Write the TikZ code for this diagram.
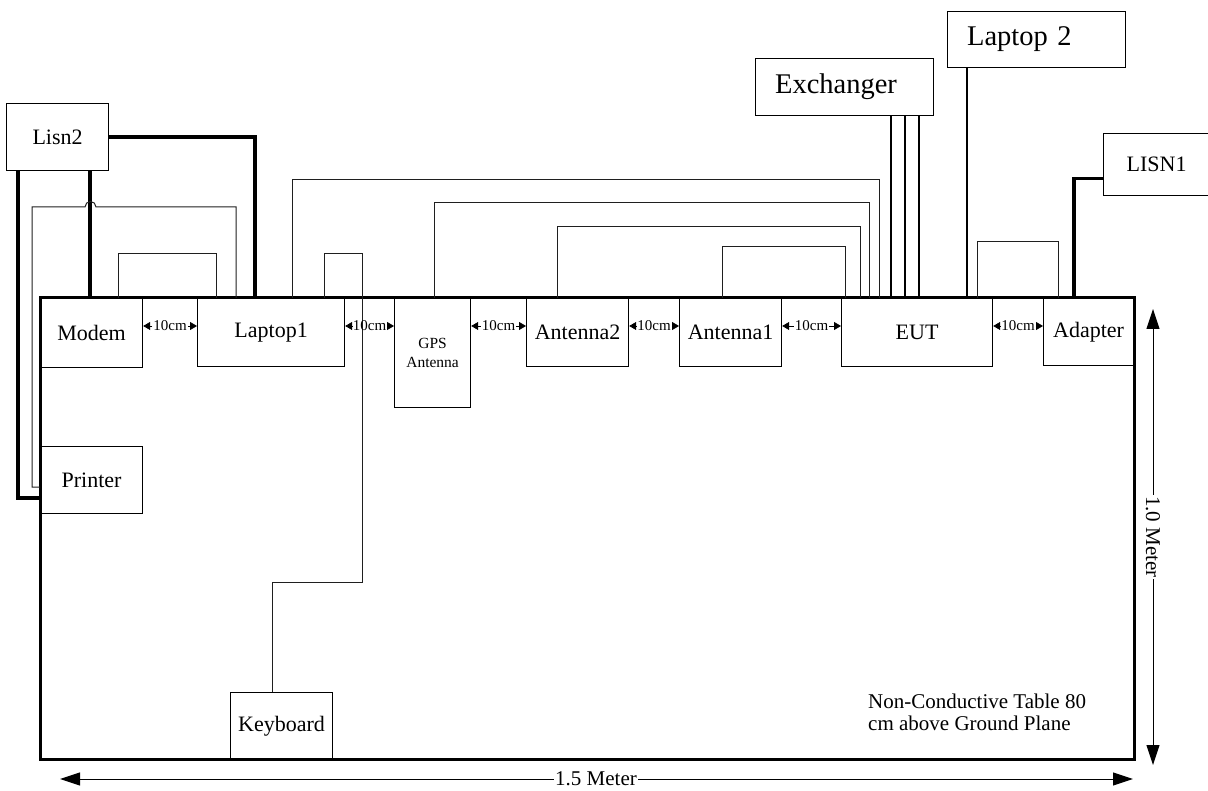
\documentclass[tikz,border=0pt]{standalone}
\usepackage{fontspec}
\setmainfont{Liberation Serif}
\usetikzlibrary{arrows.meta,calc}
\begin{document}
\begin{tikzpicture}[x=1pt,y=-1pt,
  dev/.style={draw, line width=1.2pt, inner sep=0pt, anchor=north west, font=\fontsize{22}{24}\selectfont},
  bigdev/.style={dev, font=\fontsize{28.5}{30}\selectfont, text width=139pt, align=left},
  cable/.style={line width=1pt, black!88},
  multi/.style={line width=1.5pt, black},
  power/.style={line width=3.6pt, black},
  gap/.style={font=\fontsize{15}{16}\selectfont, inner sep=0.8pt},
  gaparrow/.style={line width=0.8pt, -{Triangle[length=7pt,width=8pt]}},
  dim/.style={line width=1pt, -{Triangle[length=20pt,width=13pt]}},
  dimlabel/.style={font=\fontsize{21}{24}\selectfont, inner sep=1pt},
]
\useasboundingbox (0,0) rectangle (1208,791);

% table
\node[draw, line width=3.2pt, inner sep=0pt, anchor=north west, minimum width=1094pt, minimum height=462pt] (table) at (39,296) {};

% devices
\node[dev, minimum width=102pt, minimum height=67pt] (lisn2) at (6,103) {Lisn2};
\node[dev, minimum width=102pt, minimum height=69pt] (modem) at (40,298) {Modem};
\node[dev, minimum width=147pt, minimum height=68pt] (laptop1) at (197,298) {Laptop1};
\node[dev, minimum width=76pt, minimum height=109pt, align=center, font=\fontsize{15.5}{19}\selectfont] (gps) at (394,298) {GPS\\Antenna};
\node[dev, minimum width=102pt, minimum height=68pt] (ant2) at (526,298) {Antenna2};
\node[dev, minimum width=102pt, minimum height=68pt] (ant1) at (679,298) {Antenna1};
\node[dev, minimum width=151pt, minimum height=68pt] (eut) at (841,298) {EUT};
\node[dev, minimum width=90pt, minimum height=67pt] (adapter) at (1043,298) {Adapter};
\node[bigdev, minimum width=178pt, minimum height=57pt] (exch) at (755,58) {Exchanger};
\node[bigdev, minimum width=178pt, minimum height=56pt] (laptop2) at (947,11) {Laptop 2};
\node[dev, minimum width=106pt, minimum height=62pt] (lisn1) at (1103,133) {LISN1};
\node[dev, minimum width=102pt, minimum height=67pt] (printer) at (40,446) {Printer};
\node[dev, minimum width=102pt, minimum height=67pt] (keyboard) at (230,692) {Keyboard};

% power cables
\draw[power] ([xshift=12pt]lisn2.south west) |- ([yshift=-52pt]printer.north west);
\draw[power] ([xshift=84pt]lisn2.south west) -- ([xshift=50pt]modem.north west);
\draw[power] (lisn2.east) -| ([xshift=58pt]laptop1.north west);
\draw[power] ([yshift=-14pt]lisn1.west) -| ([xshift=31pt]adapter.north west);

% signal cables
\draw[cable] ([yshift=-41pt]printer.north west) -- ++(-8,0) -- ++(0,-280) -- ++(53,0)
  arc[start angle=180, end angle=0, radius=5.5pt] -| ([xshift=39pt]laptop1.north west);
\draw[cable] ([xshift=78pt]modem.north west) -- ++(0,-44) -| ([xshift=19pt]laptop1.north west);
\draw[cable] ([xshift=95pt]laptop1.north west) -- ++(0,-118) -| ([xshift=38pt]eut.north west);
\draw[cable] ([xshift=127pt]laptop1.north west) -- ++(0,-44) -- ++(38,0) -- ++(0,328) -| ([xshift=42pt]keyboard.north west);
\draw[cable] ([xshift=40pt]gps.north west) -- ++(0,-95) -| ([xshift=28pt]eut.north west);
\draw[cable] ([xshift=31pt]ant2.north west) -- ++(0,-71) -| ([xshift=19pt]eut.north west);
\draw[cable] ([xshift=43pt]ant1.north west) -- ++(0,-51) -| ([xshift=4pt]eut.north west);
\draw[cable] ([xshift=136pt]eut.north west) -- ++(0,-56) -| ([xshift=15pt]adapter.north west);
\draw[multi] ([xshift=136pt]exch.south west) -- ([xshift=50pt]eut.north west);
\draw[multi] ([xshift=150pt]exch.south west) -- ([xshift=64pt]eut.north west);
\draw[multi] ([xshift=164pt]exch.south west) -- ([xshift=78pt]eut.north west);
\draw[multi] ([xshift=20pt]laptop2.south west) -- ([xshift=126pt]eut.north west);

% 10cm spacings
\foreach \a/\b in {modem/laptop1, laptop1/gps, gps/ant2, ant2/ant1, ant1/eut, eut/adapter} {
  \node[gap] (g-\a) at ($(\a.north east)!0.5!(\b.north west)+(0,28)$) {10cm};
  \draw[gaparrow] (g-\a.west) -- (\a.east |- g-\a.west);
  \draw[gaparrow] (g-\a.east) -- (\b.west |- g-\a.east);
}

% dimensions
\coordinate (hl) at (60,779);
\coordinate (hr) at (1133,779);
\node[dimlabel] (hlab) at (596,779) {1.5 Meter};
\draw[dim] (hlab.west) -- (hl);
\draw[dim] (hlab.east) -- (hr);
\coordinate (vt) at (1153,309);
\coordinate (vb) at (1153,765);
\node[dimlabel, rotate=-90] (vlab) at (1153,537) {1.0 Meter};
\draw[dim] (vlab.west) -- (vt);
\draw[dim] (vlab.east) -- (vb);

% note
\node[anchor=north west, inner sep=0pt, align=left, font=\fontsize{21}{22}\selectfont] (note) at (868,694) {Non-Conductive Table 80\\cm above Ground Plane};
\end{tikzpicture}
\end{document}
